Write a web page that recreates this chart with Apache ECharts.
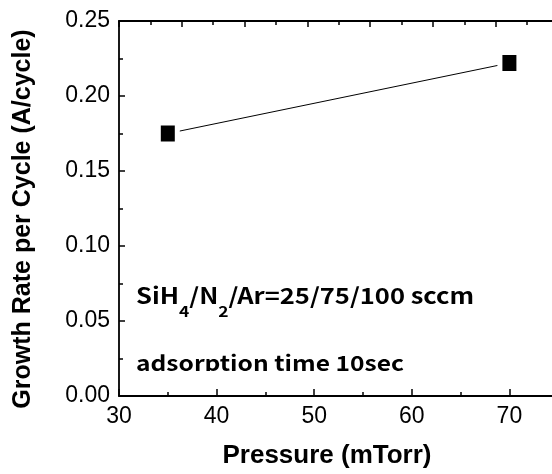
<!DOCTYPE html>
<html>
<head>
<meta charset="utf-8">
<script src="https://cdn.jsdelivr.net/npm/echarts@6/dist/echarts.min.js"></script>
<style>
html,body{margin:0;padding:0;background:#fff;}
#chart{width:552px;height:474px;}
</style>
</head>
<body>
<div id="chart"></div>
<script>
// data
var pressure = [35, 70];
var growthRate = [0.175, 0.222];
var xTicks = [30, 40, 50, 60, 70];
var yTicks = [0.00, 0.05, 0.10, 0.15, 0.20, 0.25];

var labelFont = 'Liberation Sans, Arial, sans-serif';
var noteFont = 'Noto Sans CJK KR, sans-serif';

var points = pressure.map(function (p, i) { return [p, growthRate[i]]; });

var myChart = echarts.init(document.getElementById('chart'));
var option = {
    animation: false,
    backgroundColor: '#fff',
    grid: { left: 119, top: 21, width: 488, height: 375, outerBoundsMode: 'none', containLabel: false },
    xAxis: [{
        type: 'value',
        position: 'bottom',
        min: xTicks[0], max: 80, interval: 10,
        axisLine: { onZero: false, lineStyle: { color: '#000', width: 1.8 } },
        axisTick: { inside: true, length: 7, lineStyle: { color: '#000', width: 1.5 } },
        minorTick: { show: true, splitNumber: 2, length: 4, lineStyle: { color: '#000', width: 1.5 } },
        axisLabel: {
            margin: 9, color: '#000', fontSize: 23, fontFamily: labelFont,
            formatter: function (v) { return xTicks.indexOf(v) >= 0 ? String(v) : ''; }
        },
        splitLine: { show: false }
    }, {
        // top frame, its own tick spacing
        type: 'value',
        position: 'top',
        min: 0, max: 15.54, interval: 2,
        axisLine: { onZero: false, lineStyle: { color: '#000', width: 1.8 } },
        axisTick: { inside: true, length: 6, lineStyle: { color: '#000', width: 1.5 } },
        minorTick: { show: true, splitNumber: 2, length: 4, lineStyle: { color: '#000', width: 1.5 } },
        axisLabel: { show: false },
        splitLine: { show: false }
    }],
    yAxis: {
        type: 'value',
        min: 0, max: 0.25, interval: 0.05,
        axisLine: { show: true, onZero: false, lineStyle: { color: '#000', width: 1.8 } },
        axisTick: { show: true, inside: true, length: 6, lineStyle: { color: '#000', width: 1.5 } },
        minorTick: { show: true, splitNumber: 2, length: 4, lineStyle: { color: '#000', width: 1.5 } },
        axisLabel: {
            margin: 9, color: '#000', fontSize: 23, fontFamily: labelFont,
            formatter: function (v) { return v.toFixed(2); }
        },
        splitLine: { show: false }
    },
    series: [{
        type: 'line',
        data: points,
        symbol: 'none',
        lineStyle: { color: '#000', width: 1 },
        z: 2
    }, {
        // white gap round the markers
        type: 'scatter',
        data: points,
        symbol: 'rect',
        symbolSize: [24, 26],
        itemStyle: { color: '#fff', opacity: 1 },
        silent: true,
        z: 3
    }, {
        type: 'scatter',
        data: points,
        symbol: 'rect',
        symbolSize: [14, 16],
        itemStyle: { color: '#000', opacity: 1 },
        z: 4
    }],
    graphic: [{
        type: 'text',
        x: 23, y: 219,
        rotation: Math.PI / 2,
        style: {
            text: 'Growth Rate per Cycle (A/cycle)',
            font: 'bold 25px ' + labelFont,
            fill: '#000', align: 'center', verticalAlign: 'middle'
        }
    }, {
        type: 'text',
        x: 327, y: 456,
        style: {
            text: 'Pressure (mTorr)',
            font: 'bold 26px ' + labelFont,
            fill: '#000', align: 'center', verticalAlign: 'middle'
        }
    }, {
        type: 'text',
        x: 136, y: 296,
        scaleX: 1.16,
        z: 50,
        style: {
            text: '{m|SiH}{s|4}{m|/N}{s|2}{m|/Ar=25/75/100 sccm}',
            align: 'left', verticalAlign: 'middle',
            rich: {
                m: { fontSize: 22, fontWeight: 'bold', fontFamily: noteFont, fill: '#000' },
                s: { fontSize: 15, fontWeight: 'bold', fontFamily: noteFont, fill: '#000', padding: [30, 0, 0, 0] }
            }
        }
    }, {
        type: 'text',
        x: 136, y: 363,
        scaleX: 1.17,
        z: 50,
        style: {
            text: 'adsorption time 10sec',
            font: 'bold 21px ' + noteFont,
            fill: '#000', align: 'left', verticalAlign: 'middle'
        }
    }, {
        // text is cut at its baseline in the original
        type: 'rect',
        z: 60,
        shape: { x: 128, y: 371, width: 300, height: 18 },
        style: { fill: '#fff' }
    }]
};
myChart.setOption(option);
</script>
</body>
</html>
